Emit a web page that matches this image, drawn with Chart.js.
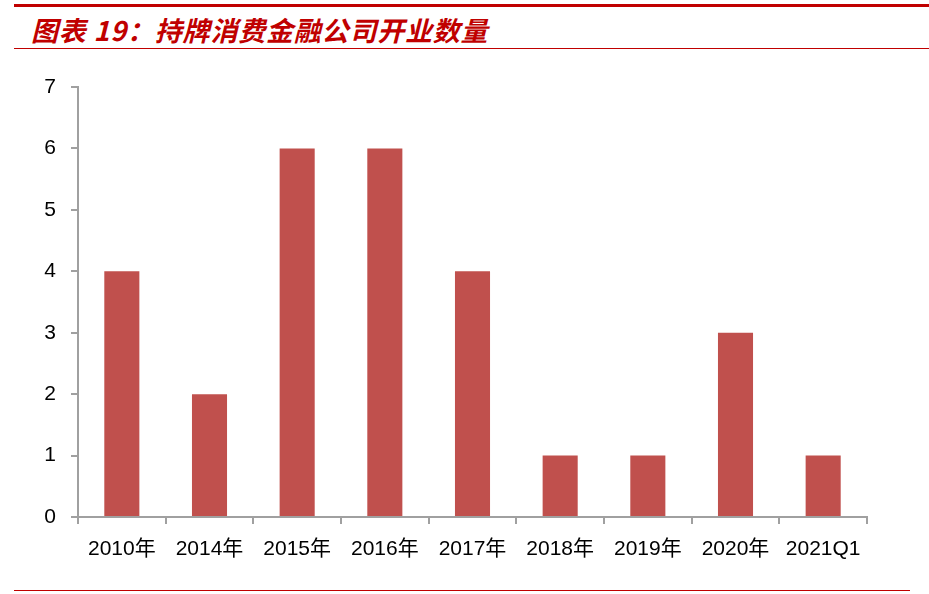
<!DOCTYPE html>
<html>
<head>
<meta charset="utf-8">
<script src="https://cdn.jsdelivr.net/npm/chart.js@4/dist/chart.umd.min.js"></script>
<style>
  html,body{margin:0;padding:0;background:#fff;}
  #wrap{position:relative;width:929px;height:594px;overflow:hidden;}
  .line{position:absolute;background:#C00000;}
  #title{position:absolute;left:31px;top:12px;font-family:"Noto Sans CJK SC",sans-serif;font-weight:bold;font-style:italic;
    font-size:27px;line-height:36px;color:#C00000;letter-spacing:0.8px;white-space:nowrap;}
  #chart{position:absolute;left:0;top:0;}
</style>
</head>
<body>
<div id="wrap">
  <div class="line" style="left:14px;top:4px;width:915px;height:3px;"></div>
  <div id="title">图表 19：持牌消费金融公司开业数量</div>
  <div class="line" style="left:14px;top:48px;width:915px;height:1px;"></div>
  <div class="line" style="left:14px;top:590px;width:896px;height:1px;"></div>
  <canvas id="chart" width="929" height="594"></canvas>
</div>
<script>
  // 数据
  const categories = ['2010年','2014年','2015年','2016年','2017年','2018年','2019年','2020年','2021Q1'];
  const openings   = [4, 2, 6, 6, 4, 1, 1, 3, 1];
  const yTicks     = [0, 1, 2, 3, 4, 5, 6, 7];

  const axisGray = '#A0A0A0';
  const font = {family:'"Liberation Sans","Noto Sans CJK SC",sans-serif', size:21};

  new Chart(document.getElementById('chart'), {
    type:'bar',
    data:{ labels:categories, datasets:[{ data:openings, backgroundColor:'#C0504D', barPercentage:0.4, categoryPercentage:1 }]},
    options:{
      responsive:false, animation:false,
      layout:{ padding:{ left:0, top:87, right:62, bottom:0 } },
      plugins:{ legend:{display:false}, tooltip:{enabled:false} },
      scales:{
        x:{
          grid:{ display:true, drawOnChartArea:false, offset:true, color:axisGray, lineWidth:2, tickLength:7 },
          border:{ color:axisGray, width:2 },
          ticks:{ color:'#000', font, padding:13, maxRotation:0 },
          afterFit: s => { s.height = 594 - 517; }
        },
        y:{
          min:0, max:7,
          afterBuildTicks: s => { s.ticks = yTicks.map(v => ({value:v})); },
          grid:{ display:true, drawOnChartArea:false, color:axisGray, lineWidth:2, tickLength:7 },
          border:{ color:axisGray, width:2 },
          ticks:{ color:'#000', font, padding:15 },
          afterFit: s => { s.width = 78; }
        }
      }
    }
  });
</script>
</body>
</html>
